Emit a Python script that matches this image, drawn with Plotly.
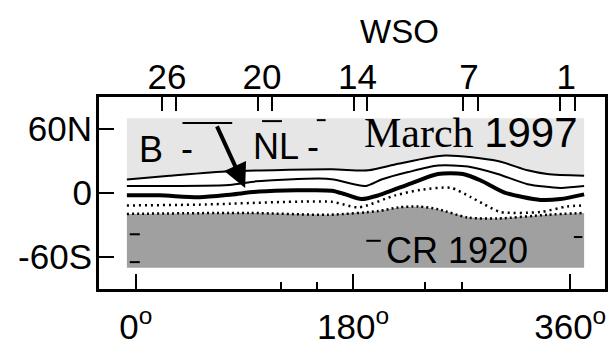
import plotly.graph_objects as go

# Carrington longitude (deg) / latitude (deg) of the traced contours
top_lon = [-7.4, 28, 77.4, 162.3, 192.8, 217.5, 256.2, 299.9, 324.6, 341, 371.5]
top_lat = [12.6, 16.1, 20.4, 22.2, 21.3, 27.4, 35.2, 30, 21.3, 17.8, 16.1]

mid_lon = [-7.4, 77.4, 99.7, 151.6, 163.9, 190.3, 203.5, 225.7, 250.4, 275.1,
           299.9, 324.6, 351.8, 371.5]
mid_lat = [6.5, 7.4, 10.9, 13.5, 12.6, 6.5, 12.6, 19.6, 25.7, 24.8,
           17.8, 8.3, 4.8, 6.5]

# neutral line
nl_lon = [-7.4, 19.8, 52.7, 79.9, 102.2, 162.3, 173.8, 187, 201, 228.2,
          250.4, 271, 285.9, 305.6, 335.3, 351.8, 371.5]
nl_lat = [-2.2, -2.2, -3.9, -1.3, 1.3, 2.2, -1.3, -5.7, -2.2, 9.1,
          17.8, 17.8, 11.7, 0.4, -6.5, -5.7, -1.3]

# negative contours (dotted)
neg1_lon = [-7.4, 52.7, 162.3, 184.5, 215, 236.4, 261.1, 277.6, 289.1, 302.3,
            335.3, 357.5, 371.5]
neg1_lat = [-11.7, -10.9, -8.3, -13.5, -2.2, 3, 4.8, -3.9, -10.9, -17.8,
            -17.8, -12.6, -11.7]

neg2_lon = [-7.4, 93.9, 159.8, 201, 217.5, 234, 250.4, 275.1, 299.9, 341, 371.5]
neg2_lat = [-19.6, -18.7, -20.4, -16.9, -13.5, -12.6, -15.2, -23, -23.9, -20.4, -18.7]

# small contour fragments
frag_lon = [38.7, 79.9, None, 104.6, 121.1, None, 150, 157.3, None,
            -5, 3.3, None, -5, 3.3, None, 191, 203, None, 363, 370]
frag_lat = [65.7, 65.7, None, 67.4, 67.4, None, 68.3, 68.3, None,
            -38.7, -38.7, None, -64.8, -64.8, None, -44.8, -44.8, None, -41.3, -41.3]

map_north = 70
map_south = -70

# axes
lon_ticks = [0, 180, 360]
lon_ticktext = ["0<sup>o</sup>", "180<sup>o</sup>", "360<sup>o</sup>"]
lon_minor = [120, 150, 240, 270]
lat_ticks = [60, 0, -60]
lat_ticktext = ["60N", "0", "-60S"]
day_pos = [25.9, 104.6, 183.7, 276, 356.7]
day_text = ["26", "20", "14", "7", "1"]
day_marks = [22, 33, 101.3, 112.6, 180.4, 191.2, 271, 283.4, 351.8, 364.1]

# arrow (tail -> tip)
arrow_tail = (66.7, 63.9)
arrow_tip = (90.6, 4.8)

LIGHT = "#e6e6e6"
DARK = "#a0a0a0"
SANS = "Liberation Sans, Arial, sans-serif"
SERIF = "Liberation Serif, Times New Roman, serif"

fig = go.Figure()

# positive polarity region
fig.add_trace(go.Scatter(
    x=top_lon + top_lon[::-1],
    y=[map_north] * len(top_lon) + top_lat[::-1],
    fill="toself", fillcolor=LIGHT, line=dict(width=0),
    mode="lines", hoverinfo="skip", showlegend=False))

# negative polarity region
fig.add_trace(go.Scatter(
    x=neg2_lon + neg2_lon[::-1],
    y=neg2_lat + [map_south] * len(neg2_lon),
    fill="toself", fillcolor=DARK, line=dict(width=0),
    mode="lines", hoverinfo="skip", showlegend=False))

for lon, lat, w, dash in [
    (top_lon, top_lat, 2, "solid"),
    (mid_lon, mid_lat, 2, "solid"),
    (nl_lon, nl_lat, 4, "solid"),
    (neg1_lon, neg1_lat, 2.5, "2px,4px"),
    (neg2_lon, neg2_lat, 2.5, "2px,3px"),
]:
    fig.add_trace(go.Scatter(x=lon, y=lat, mode="lines",
                             line=dict(color="black", width=w, dash=dash,
                                       shape="spline", smoothing=0.7),
                             hoverinfo="skip", showlegend=False))

fig.add_trace(go.Scatter(x=frag_lon, y=frag_lat, mode="lines",
                         line=dict(color="black", width=2),
                         hoverinfo="skip", showlegend=False))

# carrier for the top (day) axis
fig.add_trace(go.Scatter(x=day_pos, y=[None] * len(day_pos), xaxis="x2",
                         mode="markers", hoverinfo="skip", showlegend=False))

font_lbl = dict(family=SANS, size=35, color="black")

fig.update_layout(
    width=615, height=353,
    margin=dict(l=99, r=7, t=97, b=49),
    paper_bgcolor="white", plot_bgcolor="white",
    xaxis=dict(range=[-30.5, 388.8], showgrid=False, zeroline=False,
               tickmode="array", tickvals=lon_ticks, ticktext=lon_ticktext,
               ticks="inside", ticklen=15, tickwidth=2, tickcolor="black",
               minor=dict(tickmode="array", tickvals=lon_minor, ticks="inside",
                          ticklen=7, tickwidth=2, tickcolor="black"),
               showline=True, linewidth=3, linecolor="black", mirror=True,
               ticklabelstandoff=5, tickfont=font_lbl),
    xaxis2=dict(range=[-30.5, 388.8], overlaying="x", side="top",
                showgrid=False, zeroline=False, showline=False,
                tickmode="array", tickvals=day_pos, ticktext=day_text, ticks="",
                minor=dict(tickmode="array", tickvals=day_marks, ticks="inside",
                           ticklen=14, tickwidth=2, tickcolor="black"),
                tickfont=font_lbl),
    yaxis=dict(range=[-90, 90], showgrid=False, zeroline=False,
               tickmode="array", tickvals=lat_ticks, ticktext=lat_ticktext,
               ticks="inside", ticklen=15, tickwidth=2, tickcolor="black",
               showline=True, linewidth=3, linecolor="black", mirror=True,
               ticklabelstandoff=-3, tickfont=font_lbl),
)

fig.add_annotation(x=arrow_tip[0], y=arrow_tip[1], ax=arrow_tail[0], ay=arrow_tail[1],
                   xref="x", yref="y", axref="x", ayref="y", text="",
                   showarrow=True, arrowhead=2, arrowsize=1.2, arrowwidth=4,
                   arrowcolor="black", standoff=0)

def label(text, x, y, size=36, family=SANS, xref="x", yref="y"):
    fig.add_annotation(x=x, y=y, xref=xref, yref=yref, text=text, showarrow=False,
                       font=dict(family=family, size=size, color="black"),
                       xanchor="center", yanchor="middle")

label("B", 12.9, 40.4)
label("-", 42.4, 41.5)
label("NL", 116.2, 44)
label("-", 146.6, 43.5)
label('March <span style="font-family:Liberation Sans">1997</span>', 277.6, 57, size=42,
      family=SERIF)
label("CR 1920", 266.5, -54.3)
label("WSO", 0.593, 1.34, size=33, xref="paper", yref="paper")

fig.write_html("out.html")
